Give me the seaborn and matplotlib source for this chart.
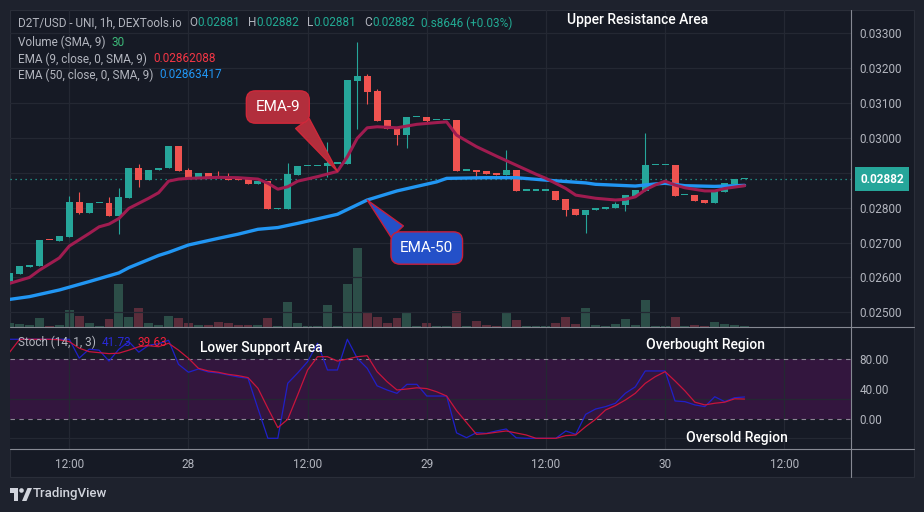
import numpy as np
import pandas as pd
import matplotlib
matplotlib.use("Agg")
import matplotlib.pyplot as plt
import matplotlib.transforms as mtransforms
from matplotlib.patches import Rectangle, Circle, Polygon
from matplotlib.lines import Line2D
import seaborn as sns

W, H = 924, 512

# hourly candles from the 27th 06:00, prices in units of 1e-5
opens = [2590, 2610, 2631, 2633, 2708, 2705, 2716, 2816, 2785, 2812, 2813, 2776, 2828, 2914, 2879,
         2907, 2913, 2977, 2908, 2885, 2899, 2891, 2888, 2882, 2882, 2868, 2876, 2796, 2796, 2893,
         2919, 2919, 2919, 2926, 2926, 3163, 3178, 3134, 3051, 3028, 3008, 3059, 3060, 3051, 3051,
         3051, 2906, 2907, 2905, 2899, 2894, 2908, 2849, 2849, 2849, 2849, 2825, 2795, 2780, 2792,
         2796, 2799, 2808, 2834, 2848, 2921, 2921, 2922, 2835, 2836, 2822, 2813, 2845, 2868, 2881]
closes = [2613, 2633, 2635, 2707, 2706, 2718, 2816, 2785, 2813, 2813, 2776, 2830, 2914, 2879, 2908,
          2914, 2977, 2905, 2885, 2899, 2888, 2885, 2879, 2880, 2868, 2876, 2796, 2799, 2897, 2919,
          2919, 2919, 2928, 2926, 3166, 3178, 3133, 3049, 3026, 3008, 3060, 3059, 3049, 3051, 3051,
          2905, 2906, 2902, 2897, 2894, 2908, 2849, 2849, 2849, 2849, 2823, 2794, 2780, 2793, 2799,
          2802, 2811, 2836, 2851, 2922, 2921, 2921, 2833, 2835, 2819, 2813, 2848, 2871, 2882, 2882]
highs = [2613, 2633, 2635, 2707, 2708, 2718, 2833, 2845, 2813, 2813, 2830, 2856, 2914, 2925, 2908,
         2914, 2977, 2977, 2914, 2899, 2899, 2905, 2899, 2885, 2882, 2876, 2876, 2799, 2928, 2919,
         2919, 2919, 2988, 2926, 3166, 3275, 3183, 3140, 3051, 3028, 3060, 3059, 3060, 3051, 3051,
         3051, 2906, 2907, 2905, 2899, 2965, 2908, 2849, 2849, 2849, 2849, 2825, 2795, 2793, 2799,
         2802, 2816, 2836, 2851, 3014, 2921, 2921, 2922, 2835, 2836, 2822, 2848, 2871, 2882, 2882]
lows = [2590, 2610, 2631, 2633, 2706, 2705, 2716, 2782, 2785, 2812, 2776, 2724, 2828, 2859, 2879,
        2907, 2913, 2905, 2885, 2885, 2888, 2885, 2879, 2880, 2868, 2868, 2796, 2796, 2796, 2893,
        2919, 2919, 2888, 2926, 2926, 3025, 3098, 3049, 3026, 2980, 2972, 3059, 3042, 3051, 3051,
        2905, 2906, 2882, 2897, 2894, 2894, 2849, 2849, 2849, 2849, 2823, 2777, 2780, 2728, 2792,
        2796, 2799, 2790, 2834, 2848, 2921, 2921, 2833, 2835, 2819, 2813, 2813, 2845, 2868, 2881]
volumes = [99, 90, 39, 270, 30, 60, 510, 330, 120, 30, 240, 1290, 300, 570, 120,
           60, 330, 270, 120, 60, 60, 150, 120, 60, 60, 60, 270, 30, 750, 120,
           30, 30, 660, 30, 1280, 2370, 450, 300, 120, 270, 420, 30, 120, 30, 30,
           480, 30, 180, 60, 30, 420, 210, 30, 30, 30, 120, 300, 90, 570, 60,
           30, 90, 240, 60, 810, 30, 30, 300, 30, 60, 30, 150, 90, 60, 30]

# moving averages (candle index, price 1e-5)
ema9_idx = [0, 2, 3, 5, 6, 8, 9, 10, 11, 12, 14, 15, 16, 17, 18, 21, 23, 25, 26, 27, 28, 29, 31, 33,
            34, 35, 36, 37, 39, 41, 43, 44, 45, 47, 49, 51, 53, 54, 56, 57, 59, 61, 62, 63, 64, 65,
            66, 67, 68, 70, 71, 72, 74]
ema9 = [2583, 2600, 2621, 2656, 2690, 2726, 2745, 2753, 2769, 2798, 2827, 2843, 2876, 2882, 2884, 2887,
        2886, 2882, 2870, 2853, 2860, 2876, 2889, 2904, 2946, 2999, 3029, 3032, 3029, 3039, 3044, 3046,
        3008, 2975, 2948, 2922, 2896, 2884, 2855, 2836, 2827, 2822, 2824, 2831, 2851, 2865, 2876, 2865,
        2857, 2848, 2848, 2855, 2863]
ema50_idx = [0, 2, 5, 8, 11, 12, 15, 16, 18, 21, 23, 25, 27, 29, 33, 36, 39, 43, 44, 48, 51, 54, 58,
             59, 63, 65, 66, 68, 71, 74]
ema50 = [2537, 2545, 2564, 2588, 2613, 2628, 2663, 2672, 2693, 2712, 2724, 2738, 2743, 2755, 2781,
         2822, 2848, 2874, 2884, 2886, 2886, 2879, 2871, 2867, 2862, 2868, 2870, 2863, 2861, 2864]

stoch_k = [100, 100, 100, 100, 100, 100, 100, 81, 90, 89, 78, 90, 97.6, 87, 94, 95.5, 99, 74.7, 66.7, 70,
           67, 66, 64, 62, 60.6, 30, 0, 0, 55.6, 66, 77.4, 96, 69, 69, 100, 80.8, 70.7, 53, 48.8, 45.4,
           54.5, 54.5, 42.7, 42.7, 42.7, 5.5, 0.6, 5.7, 5, 7.4, 9.4, 0.5, 0, 0, 0, 0, 7.4, 4, 24.2, 29.6,
           32, 35.4, 45.5, 52, 68, 68, 68, 37.7, 37, 33.7, 32, 42, 37, 41, 41.73]
stoch_d = [87, 100, 100, 100, 100, 99.5, 97.6, 91, 87.5, 86.5, 85.5, 86, 89, 92.5, 93.5, 92.5, 96, 89,
           80.8, 70.7, 68, 66.7, 64.6, 63.3, 61.3, 50.5, 30.3, 10.8, 19.2, 43.8, 69, 82.4, 82.4, 78, 80,
           82.4, 83.4, 67.3, 57.2, 48.8, 49.8, 51, 50.2, 47, 42.7, 28, 16, 4, 4.7, 6.1, 7.4, 5.4, 3.4, 0,
           0, 0, 2.7, 3.4, 11.8, 19.2, 28.6, 33, 38.7, 45.5, 55.5, 62.2, 67.3, 57.9, 47.9, 36.5, 33.7,
           35.4, 36.5, 39.9, 39.63]

price_ticks = [0.025, 0.026, 0.027, 0.028, 0.029, 0.030, 0.031, 0.032, 0.033]
time_ticks = [6, 18, 30, 42, 54, 66, 78]
time_labels = ["12:00", "28", "12:00", "29", "12:00", "30", "12:00"]
last_price = 0.02882

BG = "#161a25"
GRID = "#242833"
TXT = "#b2b5be"
UP, DOWN = "#26a69a", "#ef5350"

sns.set_theme(style="dark")
plt.rcParams["font.family"] = ["Roboto", "DejaVu Sans"]

df = pd.DataFrame({"o": opens, "c": closes, "h": highs, "l": lows, "v": volumes})
df[["o", "c", "h", "l"]] = df[["o", "c", "h", "l"]] * 1e-5
df["k"] = np.arange(len(df))
df["up"] = df["c"] >= df["o"]
df["col"] = np.where(df["up"], UP, DOWN)

fig = plt.figure(figsize=(W / 100, H / 100), dpi=100, facecolor="#1e222d")
fig.patches.append(Rectangle((10 / W, 1 - 476.7 / H), 904 / W, 466.7 / H, transform=fig.transFigure,
                             fc=BG, ec="#2a2e39", lw=0.8, zorder=-5))

ax1 = fig.add_axes([10 / W, 1 - 326.7 / H, 840.7 / W, 316.7 / H])
ax2 = fig.add_axes([10 / W, 1 - 449.3 / H, 840.7 / W, 122.6 / H], sharex=ax1)
axv = ax1.twinx()
ax1.set_zorder(axv.get_zorder() + 1)
ax1.patch.set_visible(False)
axv.set_facecolor(BG)
ax2.set_facecolor(BG)

# volume
vcol = np.where(df["up"], "#2c4e48", "#5b2d3b")
axv.bar(df["k"], df["v"], width=0.9, color=vcol, linewidth=0)
axv.set_ylim(0, 9501)
axv.set_yticks([])

# candles
ax1.vlines(df["k"], df["l"], df["h"], color=df["col"], lw=0.8, zorder=3)
body = np.maximum((df["c"] - df["o"]).abs(), 4e-5)
ax1.bar(df["k"], body, bottom=np.minimum(df["o"], df["c"]), width=0.7, color=df["col"], linewidth=0, zorder=4)

sns.lineplot(x=ema50_idx, y=np.array(ema50) * 1e-5, ax=ax1, color="#2196f3", lw=2.4, zorder=5)
sns.lineplot(x=ema9_idx, y=np.array(ema9) * 1e-5, ax=ax1, color="#a01c50", lw=2.2, zorder=6)
ax1.axhline(last_price, color=UP, lw=0.9, ls=(0, (1, 3)), zorder=2)

ax1.set_xlim(0.03, 84.69)
ax1.set_ylim(0.024587, 0.033668)
ax1.set_yticks(price_ticks)
ax1.set_yticklabels([f"{p:.5f}" for p in price_ticks])
ax1.yaxis.tick_right()
ax1.tick_params(axis="y", length=0, pad=6.5, colors=TXT, labelsize=8.5)
ax1.tick_params(axis="x", length=0, labelbottom=False)
ax1.grid(True, color=GRID, lw=0.9)
ax1.set_xlabel("")
ax1.set_ylabel("")

# price tag on the axis
blend = mtransforms.blended_transform_factory(ax1.transAxes, ax1.transData)
ax1.annotate("0.02882", xy=(1.0, last_price), xycoords=blend, xytext=(7, 0), textcoords="offset points",
             ha="left", va="center", color="white", fontsize=8.5, fontweight="bold", zorder=10,
             annotation_clip=False,
             bbox=dict(boxstyle="square,pad=0.45", fc=UP, ec="none"))

# callouts
ax1.annotate("EMA-9", xy=(33, 0.02904), xytext=(27.0, 0.030886), ha="center", va="center",
             color="white", fontsize=11, zorder=12,
             bbox=dict(boxstyle="round,pad=0.6,rounding_size=0.6", fc="#b22e3c", ec="#d0283a", lw=1),
             arrowprops=dict(arrowstyle="wedge,tail_width=1.1,shrink_factor=0.5", fc="#b22e3c",
                             ec="#d0283a", relpos=(0.85, 0.2), shrinkA=0, shrinkB=0))
ax1.annotate("EMA-50", xy=(36, 0.02822), xytext=(42.0, 0.026843), ha="center", va="center",
             color="white", fontsize=11, zorder=12,
             bbox=dict(boxstyle="round,pad=0.6,rounding_size=0.6", fc="#2450c8", ec="#c81e3a", lw=1),
             arrowprops=dict(arrowstyle="wedge,tail_width=1.1,shrink_factor=0.5", fc="#2450c8",
                             ec="#c81e3a", relpos=(0.15, 0.85), shrinkA=0, shrinkB=0))

# stochastic
ax2.axhspan(20, 80, color="#33163e", lw=0, zorder=0)
for lvl in (80, 20):
    ax2.axhline(lvl, color="#8c8494", lw=0.8, ls=(0, (4, 4)), zorder=1)
for lvl in (40, 0):
    ax2.axhline(lvl, color=GRID, lw=0.9, zorder=0.5)
sns.lineplot(x=df["k"], y=stoch_k, ax=ax2, color="#2020c8", lw=0.9, zorder=3)
sns.lineplot(x=df["k"], y=stoch_d, ax=ax2, color="#c8143c", lw=0.9, zorder=4)
ax2.set_ylim(-11.1, 112.7)
ax2.set_yticks([80, 50, 19.5])
ax2.set_yticklabels(["80.00", "40.00", "0.00"])
ax2.yaxis.tick_right()
ax2.tick_params(axis="y", length=0, pad=6.5, colors=TXT, labelsize=8.5)
ax2.set_xticks(time_ticks)
ax2.set_xticklabels(time_labels)
ax2.tick_params(axis="x", length=0, pad=6, colors=TXT, labelsize=8.5)
ax2.grid(True, axis="x", color=GRID, lw=0.9)
ax2.grid(False, axis="y")
ax2.set_xlabel("")
ax2.set_ylabel("")

for a in (ax1, ax2, axv):
    for s in a.spines.values():
        s.set_visible(False)

SEP = "#868993"
for yy in (326.7, 449.3):
    fig.lines.append(Line2D([10 / W, 914 / W], [1 - yy / H] * 2, transform=fig.transFigure, color=SEP, lw=0.8))
fig.lines.append(Line2D([850.7 / W] * 2, [1 - 10 / H, 1 - 476.7 / H], transform=fig.transFigure, color=SEP, lw=0.8))

# legends in the top-left corner
renderer = fig.canvas.get_renderer()


def chain(x, y, parts, size=8.5):
    for s, c, gap in parts:
        t = fig.text(x / W, 1 - y / H, s, color=c, fontsize=size, ha="left", va="center", zorder=20)
        x += t.get_window_extent(renderer=renderer).width + gap


TEAL = "#22ab94"
chain(18, 23, [("D2T/USD - UNI, 1h, DEXTools.io", TXT, 8), ("O", TXT, 0), ("0.02881", TEAL, 8),
               ("H", TXT, 0), ("0.02882", TEAL, 8), ("L", TXT, 0), ("0.02881", TEAL, 8),
               ("C", TXT, 0), ("0.02882", TEAL, 6), ("0.s8646 (+0.03%)", TEAL, 0)])
chain(18, 42, [("Volume (SMA, 9)", TXT, 6), ("30", "#3cb878", 0)])
chain(18, 59, [("EMA (9, close, 0, SMA, 9)", TXT, 6), ("0.02862088", "#f23645", 0)])
chain(18, 75, [("EMA (50, close, 0, SMA, 9)", TXT, 6), ("0.02863417", "#2196f3", 0)])
chain(18, 342, [("Stoch (14, 1, 3)", TXT, 6), ("41.73", "#2a2ad8", 6), ("39.63", "#f0203a", 0)])

for s, x, y in [("Upper Resistance Area", 638, 20), ("Lower Support Area", 261, 348),
                ("Overbought Region", 706, 345), ("Oversold Region", 737, 438)]:
    fig.text(x / W, 1 - y / H, s, color="white", fontsize=10, fontweight="medium",
             ha="center", va="center", zorder=20)

# TradingView mark
logo = fig.add_axes([10 / W, 1 - 501 / H, 22 / W, 14 / H])
logo.set_xlim(0, 22)
logo.set_ylim(0, 14)
logo.axis("off")
logo.add_patch(Rectangle((0, 8), 8, 5, fc="#d1d4dc", ec="none"))
logo.add_patch(Rectangle((4, 0), 4, 13, fc="#d1d4dc", ec="none"))
logo.add_patch(Circle((11.5, 10.5), 2.3, fc="#d1d4dc", ec="none"))
logo.add_patch(Polygon([(12, 0), (16.5, 0), (22, 13), (17.5, 13)], fc="#d1d4dc", ec="none"))
fig.text(33 / W, 1 - 494 / H, "TradingView", color="#d1d4dc", fontsize=9.5, fontweight="medium",
         ha="left", va="center")

fig.savefig("out.png", dpi=100, facecolor=fig.get_facecolor())
